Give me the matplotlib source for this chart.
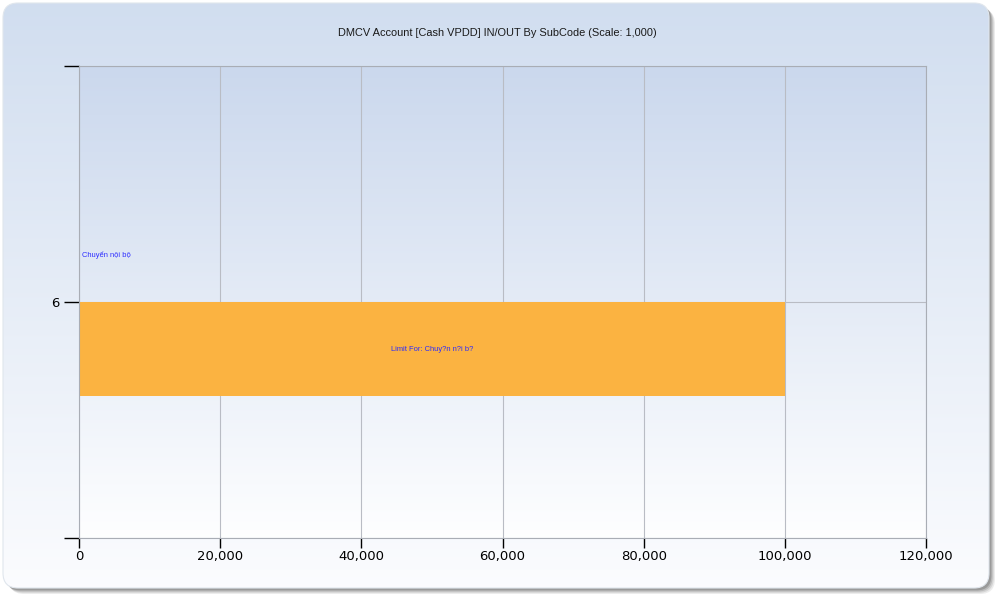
import numpy as np
import matplotlib
matplotlib.use('Agg')
import matplotlib.pyplot as plt
from matplotlib.patches import FancyBboxPatch
from matplotlib.ticker import FuncFormatter

# chart data
title = 'DMCV Account [Cash VPDD] IN/OUT By SubCode (Scale: 1,000)'
categories = [6]
subcodes = ['Chuyển nội bộ']
actual_values = [0]
limit_values = [100000]
limit_labels = ['Limit For: Chuy?n n?i b?']
x_ticks = [0, 20000, 40000, 60000, 80000, 100000, 120000]

plt.rcParams['font.family'] = ['DejaVu Sans']
small_font = ['Liberation Sans', 'DejaVu Sans']

fig = plt.figure(figsize=(10, 6), dpi=100)
fig.patch.set_facecolor('white')

#background card with shadow and gradient
bg = fig.add_axes([0, 0, 1, 1])
bg.set_xlim(0, 1000)
bg.set_ylim(0, 600)
bg.axis('off')

for i, a in enumerate([0.10, 0.14, 0.20, 0.28]):
	off = 6 - i * 1.2
	sh = FancyBboxPatch((3 + off, 12 - off), 986, 585, boxstyle='round,pad=0,rounding_size=15',
						fc=(0.3, 0.3, 0.3), ec='none', alpha=a, zorder=1)
	bg.add_patch(sh)

card = FancyBboxPatch((3, 12), 986, 585, boxstyle='round,pad=0,rounding_size=15',
					  fc='none', ec=(0.88, 0.9, 0.93), lw=0.8, zorder=3)
bg.add_patch(card)
top = np.array([0.820, 0.870, 0.940])
bot = np.array([0.985, 0.988, 0.997])
t = np.linspace(0, 1, 256)[:, None]
grad = (top * (1 - t) + bot * t)[:, None, :].repeat(2, axis=1)
img = bg.imshow(grad, extent=[3, 989, 12, 597], aspect='auto', zorder=2, origin='upper')
img.set_clip_path(card)

fig.text(0.497, 0.945, title, ha='center', va='center', fontsize=7.9,
		 family=small_font, color='#1a1a1a')

#plot area
ax = fig.add_axes([0.079, 0.1033, 0.847, 0.7867])
ax.set_facecolor('none')
ptop = np.array([0.795, 0.847, 0.930])
pbot = np.array([0.995, 0.997, 1.0])
grad2 = (ptop * (1 - t) + pbot * t)[:, None, :].repeat(2, axis=1)
ax.imshow(grad2, extent=[0, 120000, 5, 7], aspect='auto', zorder=0, origin='upper')

y = np.array(categories, dtype=float)
ax.barh(y + 0.2, actual_values, height=0.4, color='#7fa7d9', zorder=2)
ax.barh(y - 0.2, limit_values, height=0.4, color='#fbb341', zorder=2)

for yy, v, s in zip(y, actual_values, subcodes):
	ax.text(v + 400, yy + 0.2, s, ha='left', va='center', fontsize=5.4,
			family=small_font, color='#2b2bff', zorder=3)
for yy, v, s in zip(y, limit_values, limit_labels):
	ax.text(v / 2, yy - 0.2, s, ha='center', va='center', fontsize=5.4,
			family=small_font, color='#2b2bff', zorder=3)

ax.set_xlim(0, 120000)
ax.set_ylim(5, 7)
ax.set_xticks(x_ticks)
ax.xaxis.set_major_formatter(FuncFormatter(lambda v, p: '{:,.0f}'.format(v)))
ax.set_yticks([5, 6, 7])
ax.set_yticklabels(['', '6', ''])
ax.grid(True, color='#b9bcc4', lw=0.8, zorder=1)
ax.set_axisbelow(True)
for sp in ax.spines.values():
	sp.set_color('#a9adb5')
	sp.set_linewidth(0.8)
ax.tick_params(axis='x', direction='out', length=7, width=1, color='black',
			   labelsize=9.5, pad=1.5, labelcolor='#000000')
ax.tick_params(axis='y', direction='out', length=11, width=1, color='black',
			   labelsize=9.5, pad=3, labelcolor='#000000')

fig.savefig('out.png', dpi=100, facecolor='white')
